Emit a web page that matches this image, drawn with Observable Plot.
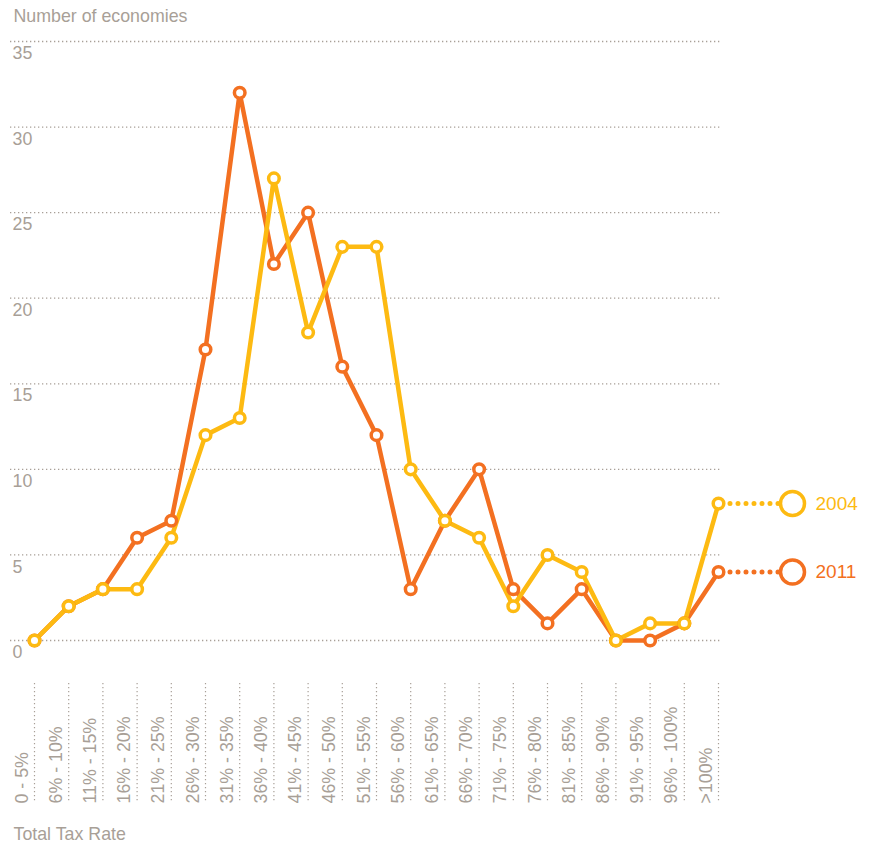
<!DOCTYPE html>
<html>
<head>
<meta charset="utf-8">
<script src="https://cdn.jsdelivr.net/npm/d3@7"></script>
<script src="https://cdn.jsdelivr.net/npm/@observablehq/plot@0.6"></script>
<style>
  body { margin: 0; background: #fff; }
  svg { font-family: "Liberation Sans", Arial, Helvetica, sans-serif; }
</style>
</head>
<body>
<div id="chart"></div>
<script>
const categories = ["0 - 5%", "6% - 10%", "11% - 15%", "16% - 20%", "21% - 25%", "26% - 30%", "31% - 35%", "36% - 40%", "41% - 45%", "46% - 50%", "51% - 55%", "56% - 60%", "61% - 65%", "66% - 70%", "71% - 75%", "76% - 80%", "81% - 85%", "86% - 90%", "91% - 95%", "96% - 100%", ">100%"];
const values2004 = [0, 2, 3, 3, 6, 12, 13, 27, 18, 23, 23, 10, 7, 6, 2, 5, 4, 0, 1, 1, 8];
const values2011 = [0, 2, 3, 6, 7, 17, 32, 22, 25, 16, 12, 3, 7, 10, 3, 1, 3, 0, 0, 1, 4];
const yTicks = [0, 5, 10, 15, 20, 25, 30, 35];
const years = ["2011", "2004"];
const colors = {"2004": "#FDBA12", "2011": "#F37021"};
const yTitle = "Number of economies";
const xTitle = "Total Tax Rate";

const data = [];
categories.forEach((c, i) => {
  data.push({i, cat: c, year: "2011", value: values2011[i]});
});
categories.forEach((c, i) => {
  data.push({i, cat: c, year: "2004", value: values2004[i]});
});
const last = categories.length - 1;
const legend = years.map(y => ({year: y, value: y === "2004" ? values2004[last] : values2011[last]}));

const grey = "#a89f97";
const fs = 17.8;

const chart = Plot.plot({
  width: 869,
  height: 842,
  marginTop: 41,
  marginBottom: 40,
  marginLeft: 10,
  marginRight: 149,
  x: {type: "linear", domain: [0, last], range: [34, 718], axis: null},
  y: {domain: [0, 35], range: [640, 41], axis: null},
  color: {domain: Object.keys(colors), range: Object.values(colors)},
  style: {fontSize: fs + "px", color: grey},
  marks: [
    Plot.ruleY(yTicks, {stroke: grey, strokeWidth: 1.3, strokeDasharray: "1.3 2.7"}),
    Plot.text(yTicks, {y: d => d, frameAnchor: "left", textAnchor: "start", dx: 2, dy: 12, text: d => String(d), fill: grey, fontSize: fs}),
    Plot.ruleX(d3.range(categories.length), {x: d => d, insetTop: 642, stroke: grey, strokeWidth: 1.2, strokeDasharray: "1.2 2.8"}),
    Plot.text(d3.range(categories.length), {x: d => d, frameAnchor: "bottom", text: d => categories[d], rotate: -90, textAnchor: "start", dx: -7, dy: 1, fill: grey, fontSize: fs}),
    Plot.text([yTitle], {frameAnchor: "top-left", text: d => d, textAnchor: "start", dx: 3, dy: -32, fill: grey, fontSize: fs}),
    Plot.text([xTitle], {frameAnchor: "bottom-left", text: d => d, textAnchor: "start", dx: 3, dy: 37, fill: grey, fontSize: fs}),
    Plot.ruleY(legend, {y: "value", x1: last, x2: last, insetLeft: 12, insetRight: -62, stroke: d => d.year, strokeWidth: 5, strokeDasharray: "0 8", strokeLinecap: "round"}),
    Plot.dot(legend, {x: last, y: "value", dx: 74, r: 12, fill: "white", stroke: d => d.year, strokeWidth: 3.5}),
    Plot.text(legend, {x: last, y: "value", dx: 97, text: "year", textAnchor: "start", fill: d => colors[d.year], fontSize: 19}),
    Plot.line(data, {x: "i", y: "value", z: "year", stroke: "year", strokeWidth: 4.5, strokeLinejoin: "round"}),
    Plot.dot(data, {x: "i", y: "value", fill: "white", stroke: "year", r: 5.3, strokeWidth: 3.5})
  ]
});
document.getElementById("chart").appendChild(chart);
</script>
</body>
</html>
